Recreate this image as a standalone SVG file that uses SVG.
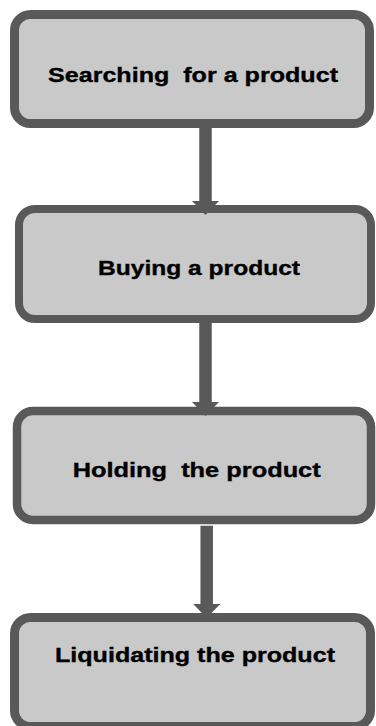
<svg xmlns="http://www.w3.org/2000/svg" width="376" height="726" viewBox="0 0 376 726">
  <style>
    .box { fill: #c9c9c9; stroke: #595959; }
    .label { font-family: "Liberation Sans", "Open Sans", Arial, sans-serif; font-weight: bold; font-size: 20.5px; fill: #000; stroke: #000; stroke-width: 0.35; }
    .flow { fill: none; stroke: #595959; stroke-width: 12.5; stroke-linecap: butt; }
  </style>
  <defs>
    <marker id="head" viewBox="0 0 14 27" markerWidth="14" markerHeight="27" markerUnits="userSpaceOnUse" refX="0" refY="13.5" orient="auto">
      <path d="M0,0 L14,13.5 L0,27 z" fill="#595959"/>
    </marker>
  </defs>

  <!-- process steps -->
  <g id="step-search">
    <rect class="box" x="14.5" y="14.5" width="355" height="109" rx="16" stroke-width="9"/>
    <text class="label" x="48" y="82" textLength="290" lengthAdjust="spacingAndGlyphs" xml:space="preserve">Searching  for a product</text>
  </g>
  <g id="step-buy">
    <rect class="box" x="19" y="209" width="352" height="110" rx="16" stroke-width="8"/>
    <text class="label" x="98" y="275" textLength="202" lengthAdjust="spacingAndGlyphs">Buying a product</text>
  </g>
  <g id="step-hold">
    <rect class="box" x="17" y="411" width="354" height="109" rx="16" stroke-width="8.5"/>
    <text class="label" x="72.7" y="477" textLength="248" lengthAdjust="spacingAndGlyphs" xml:space="preserve">Holding  the product</text>
  </g>
  <g id="step-liquidate">
    <rect class="box" x="14.5" y="617.5" width="356" height="109" rx="16" stroke-width="9"/>
    <text class="label" x="55" y="662" textLength="280" lengthAdjust="spacingAndGlyphs">Liquidating the product</text>
  </g>

  <!-- arrows between steps -->
  <g id="connectors">
    <path class="flow" d="M205.5,128 V201" marker-end="url(#head)"/>
    <path class="flow" d="M205.5,323 V402" marker-end="url(#head)"/>
    <path class="flow" d="M206.7,525.7 V604" marker-end="url(#head)"/>
  </g>
</svg>
